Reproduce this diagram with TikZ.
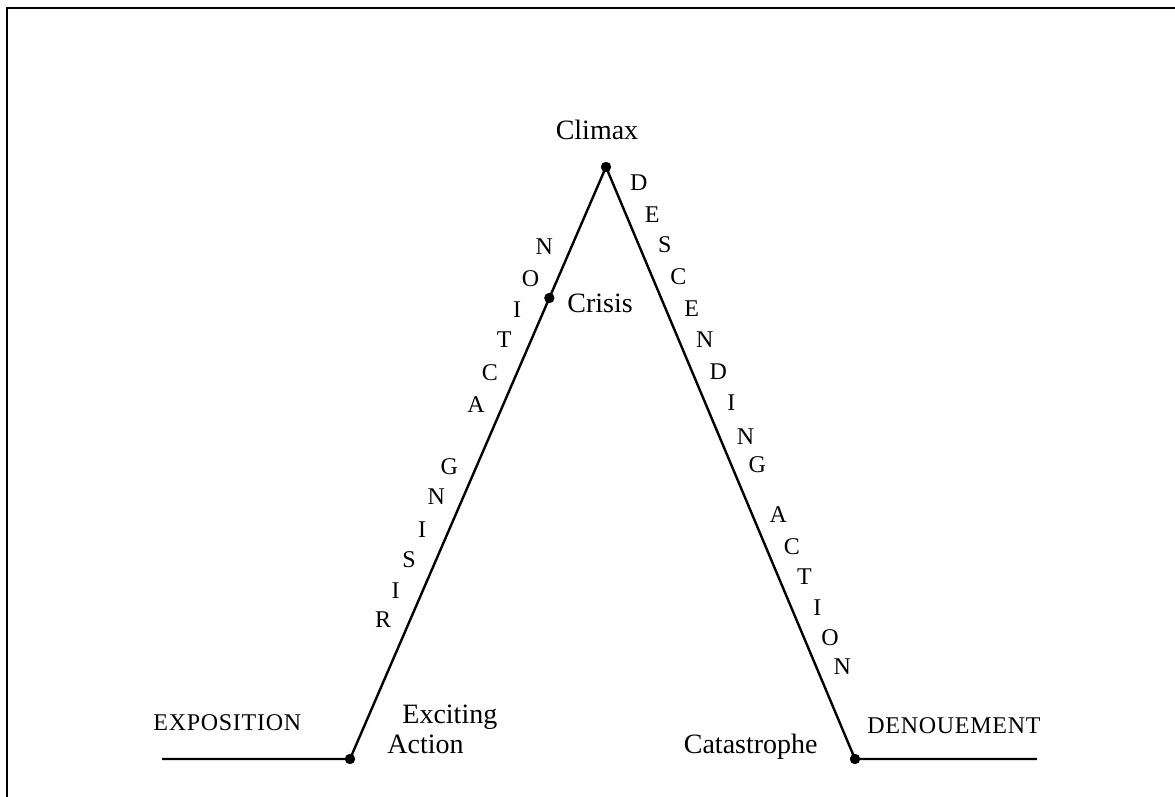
\documentclass[tikz,border=0pt]{standalone}
\usepackage{fontspec}
\setmainfont{Liberation Serif}
\usetikzlibrary{calc}

\begin{document}
\begin{tikzpicture}[
            x=0.5pt,
            y=-0.5pt,
            frame/.style={
                line width=1.3pt,
                line cap=rect
            },
            plot/.style={
                line width=1.2pt,
                line join=round
            },
            knot/.style={
                fill=black
            },
            tag/.style={
                inner sep=0pt,
                font=\fontsize{14}{15}\selectfont
            },
            caps/.style={
                inner sep=0pt,
                font=\fontsize{12}{14}\selectfont\addfontfeature{LetterSpace=3}
            },
            side/.style={
                inner sep=0pt,
                font=\fontsize{12}{14}\selectfont
            }
        ]
            \useasboundingbox (0,0) rectangle (1175,797);
            \draw[frame] (7,797) -- (7,8) -- (1175,8);

            % points of the curve
            \coordinate (start) at (162,759);
            \coordinate (excite) at (350,759);
            \coordinate (climax) at (606,167);
            \coordinate (catas) at (855,759);
            \coordinate (finish) at (1037,759);
            \coordinate (crisis) at ($(excite)!{461/592}!(climax)$);

            \draw[plot] (start) -- (excite) -- (climax) -- (catas) -- (finish);
            \foreach \p in {excite,climax,crisis,catas}
                \fill[knot] (\p) circle (2.6pt);

            \node[tag, anchor=base] (climaxlbl) at (597,140) {Climax};
            \node[tag, anchor=base west] (crisislbl) at (567,313) {Crisis};
            \node[tag, anchor=base west] (excitelbl) at (402,723) {Exciting};
            \node[tag, anchor=base west] (actionlbl) at (387,753) {Action};
            \node[tag, anchor=base east] (catlbl) at (818,753) {Catastrophe};
            \node[caps, anchor=base west] (expo) at (153,730) {EXPOSITION};
            \node[caps, anchor=base west] (denoue) at (867,733) {DENOUEMENT};

            % rising action, read upwards
            \foreach \ch/\yy [count=\i] in {R/620,I/591,S/560,I/530,N/497,G/467,
                    A/405,C/373,T/340,I/310,O/279,N/247} {
                \pgfmathsetmacro{\t}{(759-\yy)/592}
                \node[side] (rise\i) at ($(excite)!\t!(climax)+(-27,0)$) {\ch};
            }
            % descending action, read downwards
            \foreach \ch/\yy [count=\i] in {D/183,E/215,S/245,C/277,E/309,N/340,
                    D/372,I/403,N/437,G/465,A/515,C/547,T/577,I/608,O/638,N/667} {
                \pgfmathsetmacro{\t}{(\yy-167)/592}
                \node[side] (fall\i) at ($(climax)!\t!(catas)+(26,0)$) {\ch};
            }
        \end{tikzpicture}
\end{document}
